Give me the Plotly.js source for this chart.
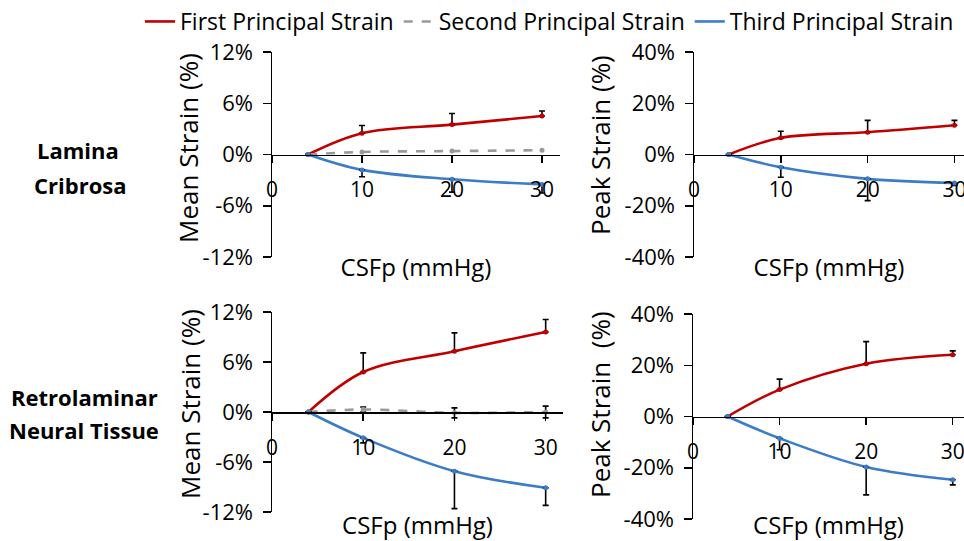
<!DOCTYPE html>
<html>
<head>
<meta charset="utf-8">
<script src="https://cdn.plot.ly/plotly-3.0.1.min.js"></script>
<style>html,body{margin:0;padding:0;background:#fff;}#chart{width:964px;height:541px;}</style>
</head>
<body>
<div id="chart"></div>
<script>
// ---------- data ----------
const pressure = [4, 10, 20, 30];               // CSFp (mmHg)
const seriesNames = ['First Principal Strain', 'Second Principal Strain', 'Third Principal Strain'];
const rowLabelLines = ['Lamina', 'Cribrosa', 'Retrolaminar', 'Neural Tissue'];
const xTickVals = [0, 10, 20, 30];
const xTickText = ['0', '10', '20', '30'];
const meanTickVals = [-12, -6, 0, 6, 12];
const meanTickText = ['-12%', '-6%', '0%', '6%', '12%'];
const peakTickVals = [-40, -20, 0, 20, 40];
const peakTickText = ['-40%', '-20%', '0%', '20%', '40%'];
const yTitles = ['Mean Strain (%)', 'Peak Strain (%)', 'Mean Strain (%)', 'Peak Strain  (%)'];
const xTitle = 'CSFp (mmHg)';

// Lamina Cribrosa - mean strain (%)
const lcMeanFirst = [0, 2.5, 3.5, 4.5];
const lcMeanFirstErr = [0, 0.9, 1.3, 0.6];
const lcMeanSecond = [0, 0.3, 0.4, 0.5];
const lcMeanThird = [0, -1.8, -2.9, -3.5];
const lcMeanThirdErr = [0, 0.8, 1.5, 1.0];
// Lamina Cribrosa - peak strain (%)
const lcPeakFirst = [0, 6.5, 8.7, 11.4];
const lcPeakFirstErr = [0, 2.6, 4.6, 1.9];
const lcPeakThird = [0, -5.0, -9.5, -11.1];
const lcPeakThirdErr = [0, 3.9, 8.5, 1.0];
// Retrolaminar neural tissue - mean strain (%)
const rnMeanFirst = [0, 4.8, 7.3, 9.6];
const rnMeanFirstErr = [0, 2.3, 2.2, 1.5];
const rnMeanSecond = [0, 0.3, -0.1, 0.0];
const rnMeanSecondErr = [0, 0.3, 0.6, 0.7];
const rnMeanThird = [0, -3.1, -7.1, -9.1];
const rnMeanThirdErr = [0, 0.6, 4.5, 2.1];
// Retrolaminar neural tissue - peak strain (%)
const rnPeakFirst = [0, 10.5, 20.6, 24.1];
const rnPeakFirstErr = [0, 4.1, 8.6, 1.5];
const rnPeakThird = [0, -8.5, -19.7, -24.7];
const rnPeakThirdErr = [0, 4.5, 10.9, 2.0];

// ---------- styles ----------
const COLORS = ['#C00000', '#9A9A9A', '#3B7CC6'];
const FONT = '"Open Sans", "Noto Sans", sans-serif';
const zeros = [0, 0, 0, 0];

function errUp(arr) { return {type: 'data', symmetric: false, array: arr, arrayminus: zeros, color: '#000', thickness: 1.6, width: 3}; }
function errDown(arr) { return {type: 'data', symmetric: false, array: zeros, arrayminus: arr, color: '#000', thickness: 1.6, width: 3}; }
function errBoth(arr) { return {type: 'data', symmetric: true, array: arr, color: '#000', thickness: 1.6, width: 3}; }

const traces = [];
// panel n: lines on (xN, yN); markers + error bars on (xN, y(N+4)), an overlay y axis that carries the tick labels
function addSeries(y, idx, n, err, showlegend) {
  const xa = n === 1 ? 'x' : 'x' + n;
  const ya = n === 1 ? 'y' : 'y' + n;
  const yb = 'y' + (n + 4);
  traces.push({
    x: pressure, y: y, name: seriesNames[idx], legendgroup: 'g' + idx, showlegend: showlegend,
    xaxis: xa, yaxis: ya, mode: 'lines', type: 'scatter',
    line: {color: COLORS[idx], width: 2.6, shape: 'spline', smoothing: 1, dash: idx === 1 ? 'dash' : 'solid'},
    hoverinfo: 'skip'
  });
  const m = {
    x: pressure, y: y, name: seriesNames[idx], legendgroup: 'g' + idx, showlegend: false,
    xaxis: xa, yaxis: yb, mode: 'markers', type: 'scatter',
    marker: {color: COLORS[idx], size: 5}, hoverinfo: 'skip'
  };
  m.error_y = err ? err : {visible: false};
  traces.push(m);
}

addSeries(lcMeanFirst, 0, 1, errUp(lcMeanFirstErr), true);
addSeries(lcMeanSecond, 1, 1, null, true);
addSeries(lcMeanThird, 2, 1, errDown(lcMeanThirdErr), true);
addSeries(lcPeakFirst, 0, 2, errUp(lcPeakFirstErr), false);
addSeries(lcPeakThird, 2, 2, errDown(lcPeakThirdErr), false);
addSeries(rnMeanFirst, 0, 3, errUp(rnMeanFirstErr), false);
addSeries(rnMeanSecond, 1, 3, errBoth(rnMeanSecondErr), false);
addSeries(rnMeanThird, 2, 3, errDown(rnMeanThirdErr), false);
addSeries(rnPeakFirst, 0, 4, errUp(rnPeakFirstErr), false);
addSeries(rnPeakThird, 2, 4, errDown(rnPeakThirdErr), false);

// ---------- layout ----------
const W = 964, H = 541;
const px = v => v / W;
const py = v => 1 - v / H;

const panels = [
  {xl: 272, xr: 560, yt: 52, yb: 257, xmax: 32, ymax: 12, mean: true, tx: 188, ty: 148},
  {xl: 694, xr: 964, yt: 52, yb: 257, xmax: 31.1, ymax: 40, mean: false, tx: 600, ty: 145},
  {xl: 272, xr: 563, yt: 312, yb: 512, xmax: 31.9, ymax: 12, mean: true, tx: 190, ty: 404},
  {xl: 693, xr: 964, yt: 314, yb: 519, xmax: 31.3, ymax: 40, mean: false, tx: 600, ty: 405}
];

const rowLabelPos = [[78, 150], [80, 185], [84, 397], [84, 430]];
const annotations = rowLabelLines.map((t, i) => ({
  text: '<b>' + t + '</b>', xref: 'paper', yref: 'paper', x: px(rowLabelPos[i][0]), y: py(rowLabelPos[i][1]),
  showarrow: false, font: {family: FONT, size: 22, color: '#000'}, xanchor: 'center', yanchor: 'middle'
}));
panels.forEach((p, i) => {
  annotations.push({
    text: yTitles[i], xref: 'paper', yref: 'paper', x: px(p.tx), y: py(p.ty), textangle: -90,
    showarrow: false, font: {family: FONT, size: 26, color: '#000'}, xanchor: 'center', yanchor: 'middle'
  });
});

const layout = {
  width: W, height: H,
  margin: {l: 0, r: 0, t: 0, b: 0},
  paper_bgcolor: '#fff', plot_bgcolor: 'rgba(0,0,0,0)',
  font: {family: FONT, color: '#000', size: 20},
  showlegend: true,
  legend: {orientation: 'h', x: px(140), y: py(0), xanchor: 'left', yanchor: 'top',
           font: {family: FONT, size: 23, color: '#000'}, itemwidth: 30, bgcolor: 'rgba(0,0,0,0)'},
  annotations: annotations
};

panels.forEach((p, i) => {
  const n = i + 1;
  const xk = n === 1 ? 'xaxis' : 'xaxis' + n;
  const yk = n === 1 ? 'yaxis' : 'yaxis' + n;
  const xid = n === 1 ? 'x' : 'x' + n;
  const yid = n === 1 ? 'y' : 'y' + n;
  const yDom = [py(p.yb), py(p.yt)];
  const tv = p.mean ? meanTickVals : peakTickVals;
  const tt = p.mean ? meanTickText : peakTickText;
  layout[xk] = {
    domain: [px(p.xl), px(p.xr)], range: [0, p.xmax], anchor: 'free', position: (yDom[0] + yDom[1]) / 2,
    tickmode: 'array', tickvals: xTickVals, ticktext: xTickText, ticklabeloverflow: 'allow',
    showline: true, linecolor: '#000', linewidth: 1.5, ticks: 'outside', ticklen: 7, tickwidth: 1.5, tickcolor: '#000',
    ticklabelstandoff: 9, tickfont: {family: FONT, size: 21, color: '#000'}, showgrid: false, zeroline: false,
    title: {text: xTitle, font: {family: FONT, size: 24, color: '#000'}, standoff: 57}
  };
  // axis line and tick marks
  layout[yk] = {
    domain: yDom, range: [-p.ymax, p.ymax], anchor: xid,
    tickmode: 'array', tickvals: tv, showticklabels: false,
    showline: true, linecolor: '#000', linewidth: 1.5, ticks: 'outside', ticklen: 8, tickwidth: 1.5, tickcolor: '#000',
    showgrid: false, zeroline: false
  };
  // tick labels, set a little away from the axis line
  layout['yaxis' + (n + 4)] = {
    overlaying: yid, anchor: 'free', position: px(p.xl - 19), side: 'left',
    range: [-p.ymax, p.ymax], tickmode: 'array', tickvals: tv, ticktext: tt,
    showline: false, ticks: '', showgrid: false, zeroline: false,
    tickfont: {family: FONT, size: 22, color: '#000'}
  };
});

Plotly.newPlot('chart', traces, layout, {displayModeBar: false, staticPlot: true});
</script>
</body>
</html>
